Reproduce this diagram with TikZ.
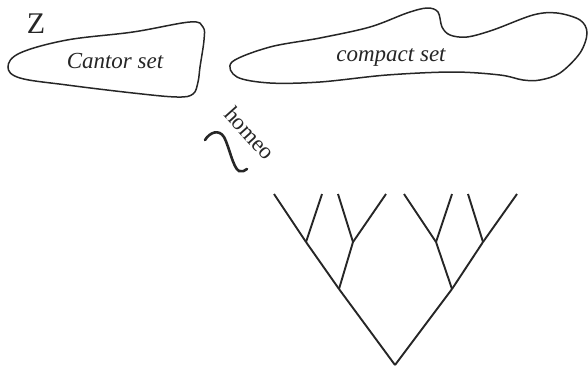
\documentclass[tikz,border=0pt]{standalone}
\usepackage{fontspec}
\setmainfont{Liberation Serif}
\begin{document}
\begin{tikzpicture}[x=1pt,y=-1pt,
  blob/.style={line width=1.5pt, draw=black!85},
  branch/.style={line width=1.9pt, draw=black!85},
  lbl/.style={font=\fontsize{23}{25}\selectfont\itshape, text=black!85}]
\useasboundingbox (0,0) rectangle (588,368);
% Cantor set blob
\draw[blob] plot[smooth cycle, tension=0.6] coordinates {(8,67) (20,53) (67,40) (133,32) (190,22) (203,27) (204,40) (200,67) (198,82) (193,94) (177,97) (133,93) (67,85) (20,78)};
\node[lbl] (cantor) at (115,61) {Cantor set};
\node[font=\fontsize{30}{32}\selectfont, text=black!85] (Z) at (36,24) {Z};
% compact set blob
\draw[blob] plot[smooth cycle, tension=0.55] coordinates {(232,62) (270,47) (320,38) (370,27) (407,13) (427,8) (438,12) (442,27) (450,35) (467,37) (493,30) (533,15) (557,13) (580,20) (587,33) (580,53) (560,73) (540,80) (523,80) (500,75) (453,72) (387,75) (320,82) (270,83) (237,77)};
\node[lbl] (compact) at (391,57) {compact set};
% homeomorphism symbol
\draw[line width=2.6pt, draw=black!85, line cap=round] (205,140) .. controls (210,132) and (219,129) .. (224,137) .. controls (229,146) and (233,168) .. (239,171) .. controls (242,172) and (245,171) .. (247,169);
\node[font=\fontsize{23}{25}\selectfont, text=black!85, rotate=-48] (homeo) at (250,133) {homeo};
% tree
\coordinate (root) at (395,365);
\coordinate (L) at (339,289);
\coordinate (R) at (452,289);
\coordinate (LL) at (306,242);
\coordinate (LR) at (353,242);
\coordinate (RL) at (436,242);
\coordinate (RR) at (483,242);
\coordinate (t1) at (274,194);
\coordinate (t2) at (322,194);
\coordinate (t3) at (338,194);
\coordinate (t4) at (386,194);
\coordinate (t5) at (404,194);
\coordinate (t6) at (452,194);
\coordinate (t7) at (468,194);
\coordinate (t8) at (517,194);
\draw[branch] (root) -- (L);
\draw[branch] (root) -- (R);
\draw[branch] (L) -- (LL);
\draw[branch] (L) -- (LR);
\draw[branch] (R) -- (RL);
\draw[branch] (R) -- (RR);
\draw[branch] (LL) -- (t1);
\draw[branch] (LL) -- (t2);
\draw[branch] (LR) -- (t3);
\draw[branch] (LR) -- (t4);
\draw[branch] (RL) -- (t5);
\draw[branch] (RL) -- (t6);
\draw[branch] (RR) -- (t7);
\draw[branch] (RR) -- (t8);
\end{tikzpicture}
\end{document}
